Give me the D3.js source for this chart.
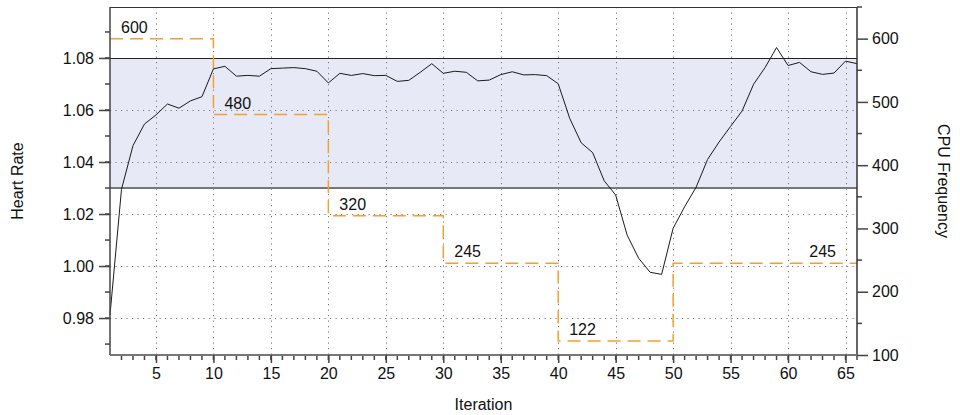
<!DOCTYPE html>
<html>
<head>
<meta charset="utf-8">
<script src="https://cdn.jsdelivr.net/npm/d3@7"></script>
<style>
  html, body { margin: 0; padding: 0; background: #fff; }
  svg { display: block; font-family: "Liberation Sans", Arial, Helvetica, sans-serif; }
</style>
</head>
<body>
<svg id="chart" width="960" height="415"></svg>
<script>
// Heart rate measured at each iteration
const iterations = d3.range(1, 67);
const heartRate = [
  0.9812, 1.0295, 1.0463, 1.0546, 1.0581, 1.0623, 1.0607, 1.0635, 1.0651, 1.0758,
  1.0768, 1.0730, 1.0733, 1.0730, 1.0759, 1.0761, 1.0763, 1.0759, 1.0749, 1.0704,
  1.0741, 1.0733, 1.0740, 1.0732, 1.0733, 1.0710, 1.0714, 1.0745, 1.0778, 1.0741,
  1.0749, 1.0745, 1.0712, 1.0715, 1.0736, 1.0747, 1.0735, 1.0736, 1.0732, 1.0701,
  1.0568, 1.0474, 1.0436, 1.0328, 1.0273, 1.0119, 1.0030, 0.9976, 0.9968, 1.0145,
  1.0228, 1.0303, 1.0410, 1.0477, 1.0537, 1.0596, 1.0699, 1.0763, 1.0840, 1.0771,
  1.0783, 1.0747, 1.0737, 1.0742, 1.0788, 1.0778
];

// CPU frequency schedule: each level holds from its start to the next start
const freqStarts = [1, 10, 20, 30, 40, 50];
const freqEnds   = [10, 20, 30, 40, 50, 66];
const freqValues = [600, 480, 320, 245, 122, 245];

// Target heart-rate window
const targetBand = [1.03, 1.08];

const leftTicks  = [0.98, 1.00, 1.02, 1.04, 1.06, 1.08];
const rightTicks = [100, 200, 300, 400, 500, 600];
const xTicks     = [5, 10, 15, 20, 25, 30, 35, 40, 45, 50, 55, 60, 65];

const svg = d3.select("#chart");
const m = { left: 110, right: 857, top: 7, bottom: 355 };

const x  = d3.scaleLinear().domain([1, 66]).range([m.left, m.right]);
const yL = d3.scaleLinear().domain([0.9658, 1.0996]).range([m.bottom, m.top]);
const yR = d3.scaleLinear().domain([100, 650]).range([m.bottom, m.top]);

const fontSize = 16;
const fontFamily = "Liberation Sans, Arial, sans-serif";

// Target band
svg.append("rect")
  .attr("x", m.left).attr("width", m.right - m.left)
  .attr("y", yL(targetBand[1])).attr("height", yL(targetBand[0]) - yL(targetBand[1]))
  .attr("fill", "#e7eaf6");

// Dotted grid
const grid = svg.append("g").attr("stroke", "#777").attr("stroke-width", 1)
  .attr("stroke-dasharray", "1.2,4.3");
grid.selectAll("line.v").data(xTicks).join("line")
  .attr("x1", d => Math.round(x(d)) + 0.5).attr("x2", d => Math.round(x(d)) + 0.5)
  .attr("y1", m.top).attr("y2", m.bottom);
grid.selectAll("line.h").data(leftTicks.filter(d => d !== 1.08)).join("line")
  .attr("y1", d => Math.round(yL(d)) + 0.5).attr("y2", d => Math.round(yL(d)) + 0.5)
  .attr("x1", m.left).attr("x2", m.right);

// Band edges
svg.append("line")
  .attr("x1", m.left).attr("x2", m.right)
  .attr("y1", Math.round(yL(targetBand[1])) + 0.5).attr("y2", Math.round(yL(targetBand[1])) + 0.5)
  .attr("stroke", "#222").attr("stroke-width", 1);
svg.append("line")
  .attr("x1", m.left).attr("x2", m.right)
  .attr("y1", yL(targetBand[0])).attr("y2", yL(targetBand[0]))
  .attr("stroke", "#777").attr("stroke-width", 2);

// CPU frequency step line
const stepPts = [];
freqValues.forEach((v, i) => {
  stepPts.push([freqStarts[i], v]);
  stepPts.push([freqEnds[i], v]);
});
svg.append("path")
  .datum(stepPts)
  .attr("fill", "none")
  .attr("stroke", "#f4a030")
  .attr("stroke-width", 1.5)
  .attr("stroke-dasharray", "13,7")
  .attr("d", d3.line().x(d => x(d[0])).y(d => yR(d[1])));

// Frequency labels
svg.append("g").selectAll("text").data(freqValues).join("text")
  .attr("x", (d, i) => i === freqValues.length - 1 ? x(freqEnds[i]) - 21 : x(freqStarts[i]) + 11)
  .attr("y", d => yR(d) - 6)
  .attr("text-anchor", (d, i) => i === freqValues.length - 1 ? "end" : "start")
  .attr("font-size", fontSize)
  .attr("fill", "#111")
  .text(d => d);

// Heart rate line
svg.append("path")
  .datum(heartRate)
  .attr("fill", "none")
  .attr("stroke", "#1a1a1a")
  .attr("stroke-width", 1)
  .attr("d", d3.line().x((d, i) => x(iterations[i])).y(d => yL(d)));

// Frame top
svg.append("line")
  .attr("x1", m.left).attr("x2", m.right)
  .attr("y1", m.top + 0.5).attr("y2", m.top + 0.5)
  .attr("stroke", "#333").attr("stroke-width", 1);

// Left axis
const gL = svg.append("g").attr("transform", `translate(${m.left},0)`);
gL.selectAll("line.minor").data(d3.range(0.97, 1.095, 0.01)).join("line")
  .attr("x1", -5).attr("x2", 0)
  .attr("y1", d => yL(d)).attr("y2", d => yL(d))
  .attr("stroke", "#444").attr("stroke-width", 1.5);
gL.call(d3.axisLeft(yL).tickValues(leftTicks).tickSize(11).tickPadding(5).tickFormat(d3.format(".2f")));
gL.selectAll(".tick line").attr("stroke", "#444").attr("stroke-width", 1.5);
gL.select(".domain").attr("stroke", "#444").attr("stroke-width", 1.5).attr("d", `M0,${m.top}V${m.bottom}`);
gL.selectAll(".tick text").attr("font-size", fontSize).attr("fill", "#111")
  .attr("font-family", fontFamily);

// Right axis
const gR = svg.append("g").attr("transform", `translate(${m.right},0)`);
gR.selectAll("line.minor").data([150, 250, 350, 450, 550, 650]).join("line")
  .attr("x1", 0).attr("x2", 5)
  .attr("y1", d => yR(d)).attr("y2", d => yR(d))
  .attr("stroke", "#444").attr("stroke-width", 1.5);
gR.call(d3.axisRight(yR).tickValues(rightTicks).tickSize(11).tickPadding(4).tickFormat(d3.format("d")));
gR.selectAll(".tick line").attr("stroke", "#444").attr("stroke-width", 1.5);
gR.select(".domain").attr("stroke", "#333").attr("stroke-width", 1.5).attr("d", `M0,${m.top}V${m.bottom}`);
gR.selectAll(".tick text").attr("font-size", fontSize).attr("fill", "#111")
  .attr("font-family", fontFamily);

// Bottom axis
const gB = svg.append("g").attr("transform", `translate(0,${m.bottom})`);
gB.selectAll("line.minor").data(d3.range(2, 67)).join("line")
  .attr("x1", d => x(d)).attr("x2", d => x(d))
  .attr("y1", 0).attr("y2", 5)
  .attr("stroke", "#444").attr("stroke-width", 1.5);
gB.call(d3.axisBottom(x).tickValues(xTicks).tickSize(8).tickPadding(5).tickFormat(d3.format("d")));
gB.selectAll(".tick line").attr("stroke", "#444").attr("stroke-width", 1.5);
gB.select(".domain").attr("stroke", "#777").attr("stroke-width", 2).attr("d", `M${m.left},0H${m.right}`);
gB.selectAll(".tick text").attr("font-size", fontSize).attr("fill", "#111")
  .attr("font-family", fontFamily);

// Axis titles
svg.append("text")
  .attr("x", (m.left + m.right) / 2).attr("y", 410)
  .attr("text-anchor", "middle").attr("font-size", fontSize).attr("fill", "#111")
  .text("Iteration");
svg.append("text")
  .attr("transform", `translate(23,${(m.top + m.bottom) / 2}) rotate(-90)`)
  .attr("text-anchor", "middle").attr("font-size", fontSize).attr("fill", "#111")
  .text("Heart Rate");
svg.append("text")
  .attr("transform", `translate(938,${(m.top + m.bottom) / 2}) rotate(90)`)
  .attr("text-anchor", "middle").attr("font-size", fontSize).attr("fill", "#111")
  .text("CPU Frequency");
</script>
</body>
</html>
